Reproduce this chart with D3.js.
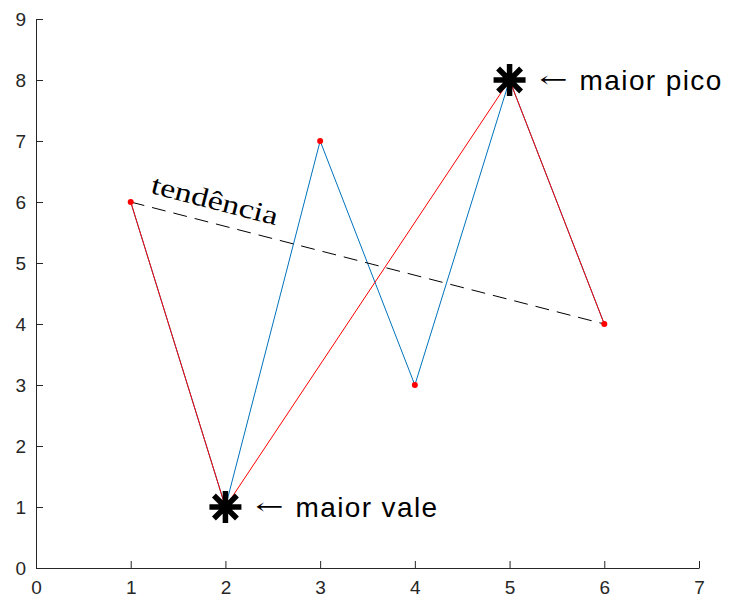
<!DOCTYPE html>
<html>
<head>
<meta charset="utf-8">
<script src="https://cdn.jsdelivr.net/npm/d3@7"></script>
<style>
  body { margin: 0; background: #fff; }
  svg { display: block; }
  .tick text { font-family: "Liberation Sans", Arial, sans-serif; font-size: 19px; fill: #262626; }
</style>
</head>
<body>
<svg id="chart" width="729" height="598"></svg>
<script>
// data
const xs = [1, 2, 3, 4, 5, 6];
const ys = [6, 1, 7, 3, 8, 4];
// red path: first point, lowest valley, highest peak, last point
const redIdx = [0, 1, 4, 5];
const trendX = [1, 6];
const trendY = [6, 4];
const xTicks = [0, 1, 2, 3, 4, 5, 6, 7];
const yTicks = [0, 1, 2, 3, 4, 5, 6, 7, 8, 9];
const valley = { x: 2, y: 1, label: "maior vale" };
const peak = { x: 5, y: 8, label: "maior pico" };
const trendLabel = { x: 1.2, y: 6.15, text: "tendência" };

const svg = d3.select('#chart');

const x = d3.scaleLinear().domain([0, 7]).range([36, 699]);
const y = d3.scaleLinear().domain([0, 9]).range([568, 19]);

// axes, ticks pointing inward like matlab
const xAxis = svg.append('g')
  .attr('transform', `translate(0,${y(0)})`)
  .call(d3.axisBottom(x).tickValues(xTicks).tickFormat(d3.format('d'))
    .tickSizeInner(-7).tickSizeOuter(0).tickPadding(13));
const yAxis = svg.append('g')
  .attr('transform', `translate(${x(0)},0)`)
  .call(d3.axisLeft(y).tickValues(yTicks).tickFormat(d3.format('d'))
    .tickSizeInner(-7).tickSizeOuter(0).tickPadding(10));
[xAxis, yAxis].forEach(a => {
  a.selectAll('path.domain').attr('stroke', '#262626');
  a.selectAll('.tick line').attr('stroke', '#262626');
});

const line = d3.line().x(d => x(d[0])).y(d => y(d[1]));
const pts = xs.map((v, i) => [v, ys[i]]);

// blue series
svg.append('path')
  .attr('d', line(pts))
  .attr('fill', 'none')
  .attr('stroke', '#0072BD')
  .attr('stroke-width', 1);

// red path through the extremes
svg.append('path')
  .attr('d', line(redIdx.map(i => pts[i])))
  .attr('fill', 'none')
  .attr('stroke', '#ff0000')
  .attr('stroke-width', 1);

// trend line
svg.append('path')
  .attr('d', line(trendX.map((v, i) => [v, trendY[i]])))
  .attr('fill', 'none')
  .attr('stroke', '#000')
  .attr('stroke-width', 1)
  .attr('stroke-dasharray', '14,8');

// red dots on every point
svg.append('g')
  .selectAll('circle')
  .data(pts)
  .join('circle')
  .attr('cx', d => x(d[0]))
  .attr('cy', d => y(d[1]))
  .attr('r', 3)
  .attr('fill', '#ff0000');

// asterisk markers
function asterisk(cx, cy) {
  const r = 16, q = 11.5;
  return `M${cx - r},${cy}L${cx + r},${cy}M${cx},${cy - r}L${cx},${cy + r}` +
    `M${cx - q},${cy - q}L${cx + q},${cy + q}M${cx - q},${cy + q}L${cx + q},${cy - q}`;
}
svg.append('g')
  .selectAll('path')
  .data([valley, peak])
  .join('path')
  .attr('d', d => asterisk(x(d.x), y(d.y)))
  .attr('stroke', '#000')
  .attr('stroke-width', 5.5)
  .attr('fill', 'none');

// annotations
const notes = svg.append('g').selectAll('g')
  .data([valley, peak])
  .join('g')
  .attr('transform', d => `translate(${x(d.x)},${y(d.y)})`);
notes.append('text')
  .attr('x', 30)
  .attr('y', 0)
  .attr('dy', '0.33em')
  .attr('font-family', '"DejaVu Serif", serif')
  .attr('font-size', 22)
  .attr('font-weight', 200)
  .attr('textLength', 28)
  .attr('lengthAdjust', 'spacingAndGlyphs')
  .text('←');
notes.append('text')
  .attr('x', 70)
  .attr('y', 0)
  .attr('dy', '0.35em')
  .attr('font-family', '"Liberation Sans", Arial, sans-serif')
  .attr('font-size', 28)
  .attr('letter-spacing', 1.4)
  .attr('fill', '#000')
  .text(d => d.label);

// rotated trend label following the dashed line
const angle = Math.atan2(y(trendY[1]) - y(trendY[0]), x(trendX[1]) - x(trendX[0])) * 180 / Math.PI;
svg.append('text')
  .attr('transform', `translate(${x(trendLabel.x)},${y(trendLabel.y)}) rotate(${angle})`)
  .attr('font-family', '"Liberation Serif", "Times New Roman", serif')
  .attr('font-size', 27)
  .attr('textLength', 130)
  .attr('lengthAdjust', 'spacingAndGlyphs')
  .text(trendLabel.text);
</script>
</body>
</html>
